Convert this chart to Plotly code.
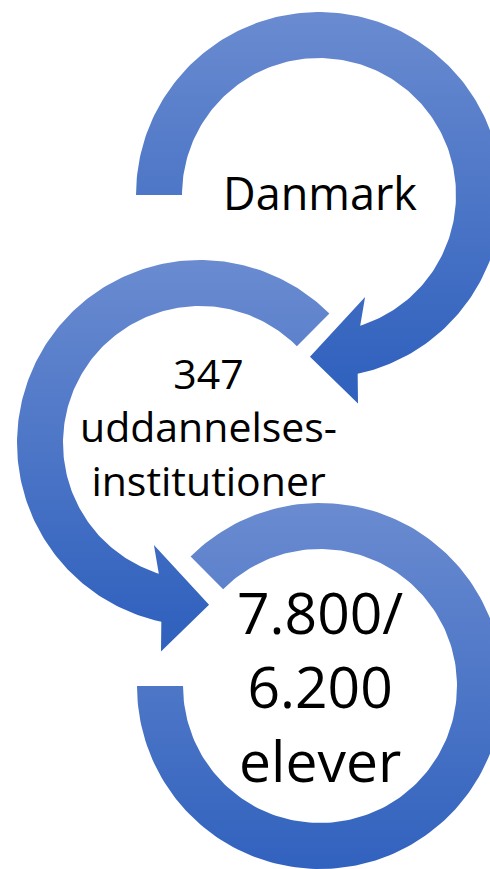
import numpy as np
import plotly.graph_objects as go

# ---- content ----
labels_top = ["Danmark"]
labels_mid = ["347", "uddannelses-", "institutioner"]
labels_bot = ["7.800/", "6.200", "elever"]

# ---- geometry (pixel space, y downward) ----
R_OUT, R_IN = 183, 137
C1 = (319, 195)
C2 = (200, 443)
C3 = (320, 686)
TOP_COL, BOT_COL = "#6A8BD0", "#3162BE"


def pt(c, r, a):
    t = np.radians(a)
    return c[0] + r * np.cos(t), c[1] + r * np.sin(t)


def arc(c, r, a0, a1, n=200):
    aa = np.linspace(a0, a1, n)
    t = np.radians(aa)
    return list(c[0] + r * np.cos(t)), list(c[1] + r * np.sin(t))


def arrow_ring(c, a_start, out_end, in_end, barb_out, tip, barb_in):
    xo, yo = arc(c, R_OUT, a_start, out_end)
    xs, ys = xo[:], yo[:]
    for (r, a) in [barb_out, tip, barb_in]:
        x, y = pt(c, r, a)
        xs.append(x); ys.append(y)
    xi, yi = arc(c, R_IN, in_end, a_start)
    xs += xi; ys += yi
    xs.append(xs[0]); ys.append(ys[0])
    return xs, ys


def ring(c, a0, a1):
    xo, yo = arc(c, R_OUT, a0, a1)
    xi, yi = arc(c, R_IN, a1, a0)
    xs = xo + xi + [xo[0]]
    ys = yo + yi + [yo[0]]
    return xs, ys


shapes_xy = []
# circle 1: clockwise from 9 o'clock, arrow pointing down-left
shapes_xy.append((C1, arrow_ring(C1, 180, 437.8, 432.5, (212, 439.4), (162, 453.2), (112, 425.7))))
# circle 2: mirrored, counter-clockwise from 1:30
shapes_xy.append((C2, arrow_ring(C2, -45, 180 - 437.8, 180 - 432.5, (212, 180 - 439.4), (162, 180 - 453.2), (112, 180 - 425.7))))
# circle 3: plain ring from 10:30 clockwise to 9 o'clock
shapes_xy.append((C3, ring(C3, -135, 180)))

fig = go.Figure()
for c, (xs, ys) in shapes_xy:
    fig.add_trace(go.Scatter(
        x=xs, y=ys, mode="lines", fill="toself",
        line=dict(width=0, color=BOT_COL),
        fillgradient=dict(type="vertical",
                          colorscale=[[0, TOP_COL], [1, BOT_COL]],
                          start=c[1] - R_OUT, stop=c[1] + R_OUT),
        hoverinfo="skip", showlegend=False))

FONT = "Open Sans"
groups = [
    (labels_top, 320, 192, 45),
    (labels_mid, 208, 426, 41),
    (labels_bot, 320, 686, 57),
]
for lines, x, y, s in groups:
    fig.add_annotation(x=x, y=y, text="<br>".join(lines), showarrow=False,
                       xanchor="center", yanchor="middle", align="center",
                       font=dict(family=FONT, size=s, color="black"))

fig.update_layout(
    width=490, height=869, autosize=False,
    margin=dict(l=0, r=0, t=0, b=0),
    paper_bgcolor="white", plot_bgcolor="white",
    xaxis=dict(range=[0, 490], visible=False, fixedrange=True),
    yaxis=dict(range=[869, 0], visible=False, fixedrange=True),
)
fig.write_html("out.html", config={"displayModeBar": False},
               post_script="document.body.style.margin='0';document.body.style.overflow='hidden';")
